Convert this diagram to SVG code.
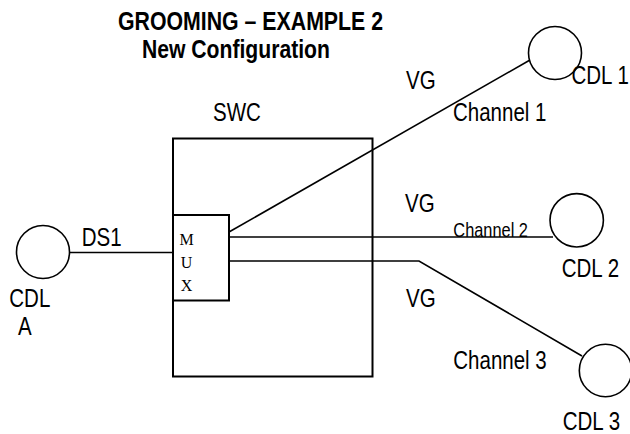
<svg xmlns="http://www.w3.org/2000/svg" width="630" height="434" viewBox="0 0 630 434">
<style>
  .t { font-family: "Liberation Sans", Arial, sans-serif; font-size: 25px; fill: #000; }
  .b { font-weight: bold; }
  .s { font-size: 20px; }
  .m { font-family: "Liberation Serif", "Times New Roman", serif; font-size: 16px; fill: #000; }
  .box { fill: #fff; stroke: #000; stroke-width: 2; }
  .node { fill: #fff; stroke: #000; stroke-width: 1.6; }
  .ln { fill: none; stroke: #000; stroke-width: 1.6; }
</style>
<rect width="630" height="434" fill="#fff"/>
<g id="title">
  <text class="t b" transform="translate(118 30) scale(0.852 1)">GROOMING – EXAMPLE 2</text>
  <text class="t b" transform="translate(142 58) scale(0.846 1)">New Configuration</text>
</g>
<g id="swc">
  <rect class="box" x="173" y="138.5" width="199.5" height="238"/>
  <text class="t" transform="translate(213 120.5) scale(0.82 1)">SWC</text>
</g>
<g id="connectors">
  <line class="ln" x1="70" y1="252.5" x2="173" y2="252.5"/>
  <line class="ln" x1="229" y1="232" x2="530" y2="60"/>
  <line class="ln" x1="229" y1="237" x2="553" y2="237"/>
  <polyline class="ln" points="229,261 419,261 582,356"/>
</g>
<g id="mux">
  <rect class="box" x="173" y="215" width="56" height="85.5"/>
  <text class="m" x="186.5" y="245" text-anchor="middle">M</text>
  <text class="m" x="186.5" y="268" text-anchor="middle">U</text>
  <text class="m" x="186.5" y="291" text-anchor="middle">X</text>
</g>
<g id="cdl-a">
  <circle class="node" cx="43" cy="252" r="26.5"/>
  <text class="t" transform="translate(9.3 306.5) scale(0.82 1)">CDL</text>
  <text class="t" transform="translate(18 335) scale(0.82 1)">A</text>
</g>
<g id="ds1-label">
  <text class="t" transform="translate(81.7 245.5) scale(0.82 1)">DS1</text>
</g>
<g id="cdl-1">
  <circle class="node" cx="555" cy="53" r="26.5"/>
  <text class="t" transform="translate(571.5 84) scale(0.82 1)">CDL 1</text>
</g>
<g id="channel-1">
  <text class="t" transform="translate(406 89) scale(0.82 1)">VG</text>
  <text class="t" transform="translate(453 121) scale(0.82 1)">Channel 1</text>
</g>
<g id="cdl-2">
  <circle class="node" cx="576.7" cy="220.3" r="26.7"/>
  <text class="t" transform="translate(561.7 276.5) scale(0.82 1)">CDL 2</text>
</g>
<g id="channel-2">
  <text class="t" transform="translate(405 212.3) scale(0.82 1)">VG</text>
  <text class="t s" transform="translate(453.3 236.5) scale(0.82 1)">Channel 2</text>
</g>
<g id="cdl-3">
  <circle class="node" cx="605.5" cy="370.5" r="26.2"/>
  <text class="t" transform="translate(562.7 430) scale(0.82 1)">CDL 3</text>
</g>
<g id="channel-3">
  <text class="t" transform="translate(406 306.7) scale(0.82 1)">VG</text>
  <text class="t" transform="translate(453.3 369) scale(0.82 1)">Channel 3</text>
</g>
</svg>
